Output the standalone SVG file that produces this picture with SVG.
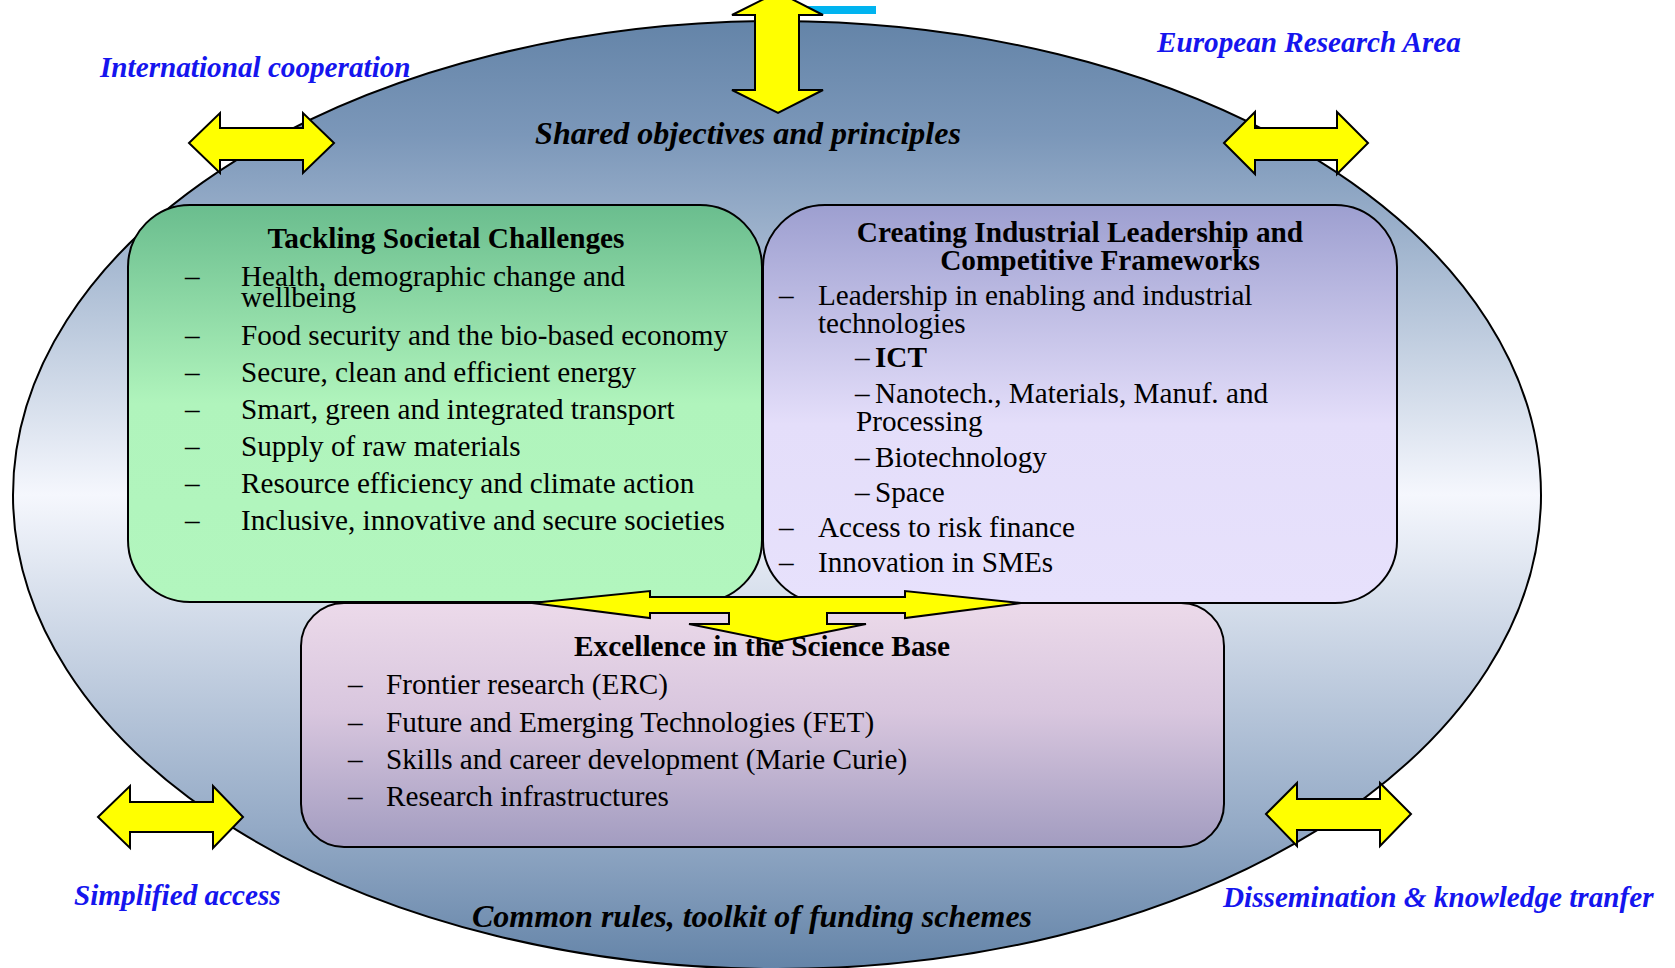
<svg xmlns="http://www.w3.org/2000/svg" width="1675" height="968" viewBox="0 0 1675 968">
<defs>
<linearGradient id="gEll" x1="0" y1="0" x2="0" y2="1">
<stop offset="0" stop-color="#6484a8"/>
<stop offset="0.12" stop-color="#7b97b9"/>
<stop offset="0.5" stop-color="#f5f7fd"/>
<stop offset="0.85" stop-color="#94aac6"/>
<stop offset="1" stop-color="#6484a8"/>
</linearGradient>
<linearGradient id="gGreen" x1="0" y1="0" x2="0" y2="1">
<stop offset="0" stop-color="#6abd8e"/>
<stop offset="0.5" stop-color="#b0f4bc"/>
<stop offset="1" stop-color="#b2f6be"/>
</linearGradient>
<linearGradient id="gPurple" x1="0" y1="0" x2="0" y2="1">
<stop offset="0" stop-color="#9d9fd0"/>
<stop offset="0.55" stop-color="#e4defa"/>
<stop offset="1" stop-color="#e7e1fc"/>
</linearGradient>
<linearGradient id="gPink" x1="0" y1="0" x2="0" y2="1">
<stop offset="0" stop-color="#ecdaea"/>
<stop offset="0.45" stop-color="#d8c6de"/>
<stop offset="1" stop-color="#a29cc0"/>
</linearGradient>
</defs>
<style>
.box{stroke:#000;stroke-width:2}
.arrow{fill:#ffff00;stroke:#000;stroke-width:2;stroke-linejoin:miter}
.t{font-family:"Liberation Serif","Times New Roman",serif;font-size:29.2px;fill:#000}
.h{font-family:"Liberation Serif","Times New Roman",serif;font-size:29.3px;font-weight:bold;fill:#000}
.big{font-family:"Liberation Serif","Times New Roman",serif;font-size:32px;font-weight:bold;font-style:italic;fill:#000}
.blue{font-family:"Liberation Serif","Times New Roman",serif;font-size:29.2px;font-weight:bold;font-style:italic;fill:#1515ee}
</style>
<rect x="790" y="6" width="86" height="8" fill="#00b4f0"/>
<g id="ellipse">
<ellipse cx="777" cy="495" rx="764" ry="474" fill="url(#gEll)" stroke="#000" stroke-width="2"/>
<text class="big" x="748" y="144" text-anchor="middle">Shared objectives and principles</text>
<text class="big" x="752" y="927" text-anchor="middle">Common rules, toolkit of funding schemes</text>
</g>
<g id="labels">
<text class="blue" x="100" y="77">International cooperation</text>
<text class="blue" x="1157" y="52">European Research Area</text>
<text class="blue" x="74" y="905">Simplified access</text>
<text class="blue" x="1223" y="907">Dissemination &amp; knowledge tranfer</text>
</g>
<g id="societal">
<rect class="box" x="128" y="205" width="634" height="397" rx="62" ry="62" fill="url(#gGreen)"/>
<text class="h" x="446" y="248" text-anchor="middle">Tackling Societal Challenges</text>
<text class="t" x="185" y="286">–</text><text class="t" x="241" y="286">Health, demographic change and</text>
<text class="t" x="241" y="307">wellbeing</text>
<text class="t" x="185" y="345">–</text><text class="t" x="241" y="345">Food security and the bio-based economy</text>
<text class="t" x="185" y="382">–</text><text class="t" x="241" y="382">Secure, clean and efficient energy</text>
<text class="t" x="185" y="419">–</text><text class="t" x="241" y="419">Smart, green and integrated transport</text>
<text class="t" x="185" y="456">–</text><text class="t" x="241" y="456">Supply of raw materials</text>
<text class="t" x="185" y="493">–</text><text class="t" x="241" y="493">Resource efficiency and climate action</text>
<text class="t" x="185" y="530">–</text><text class="t" x="241" y="530">Inclusive, innovative and secure societies</text>
</g>
<g id="industrial">
<rect class="box" x="763" y="205" width="634" height="398" rx="62" ry="62" fill="url(#gPurple)"/>
<text class="h" x="1080" y="242" text-anchor="middle">Creating Industrial Leadership and</text>
<text class="h" x="1100" y="270" text-anchor="middle">Competitive Frameworks</text>
<text class="t" x="779" y="305">–</text><text class="t" x="818" y="305">Leadership in enabling and industrial</text>
<text class="t" x="818" y="333">technologies</text>
<text class="t" x="855" y="367">–<tspan x="875" font-weight="bold">ICT</tspan></text>
<text class="t" x="855" y="403">–<tspan x="875">Nanotech., Materials, Manuf. and</tspan></text>
<text class="t" x="856" y="431">Processing</text>
<text class="t" x="855" y="467">–<tspan x="875">Biotechnology</tspan></text>
<text class="t" x="855" y="502">–<tspan x="875">Space</tspan></text>
<text class="t" x="779" y="537">–</text><text class="t" x="818" y="537">Access to risk finance</text>
<text class="t" x="779" y="572">–</text><text class="t" x="818" y="572">Innovation in SMEs</text>
</g>
<g id="excellence">
<rect class="box" x="301" y="603" width="923" height="244" rx="43" ry="43" fill="url(#gPink)"/>
<text class="h" x="762" y="656" text-anchor="middle">Excellence in the Science Base</text>
<text class="t" x="348" y="694">–</text><text class="t" x="386" y="694">Frontier research (ERC)</text>
<text class="t" x="348" y="732">–</text><text class="t" x="386" y="732">Future and Emerging Technologies (FET)</text>
<text class="t" x="348" y="769">–</text><text class="t" x="386" y="769">Skills and career development (Marie Curie)</text>
<text class="t" x="348" y="806">–</text><text class="t" x="386" y="806">Research infrastructures</text>
</g>
<g id="connectors">
<polygon class="arrow" points="778,-8 823,15 799,15 799,90 823,90 778,113 732,90 755,90 755,15 732,15"/>
<polygon class="arrow" points="189,143 220,113 220,128 303,128 303,113 334,143 303,173 303,160 220,160 220,173"/>
<polygon class="arrow" points="1224,143 1255,112 1255,128 1337,128 1337,112 1368,143 1337,174 1337,160 1255,160 1255,174"/>
<polygon class="arrow" points="98,817 130,786 130,802 213,802 213,786 243,817 213,848 213,832 130,832 130,848"/>
<polygon class="arrow" points="1266,814 1297,783 1297,799 1380,799 1380,783 1411,814 1380,846 1380,830 1297,830 1297,846"/>
<polygon class="arrow" points="532,603 650,591 650,597 905,597 905,591 1021,603 905,618 905,613 827,613 827,624 866,624 777,642 689,624 729,624 729,613 650,613 650,618"/>
</g>
</svg>
